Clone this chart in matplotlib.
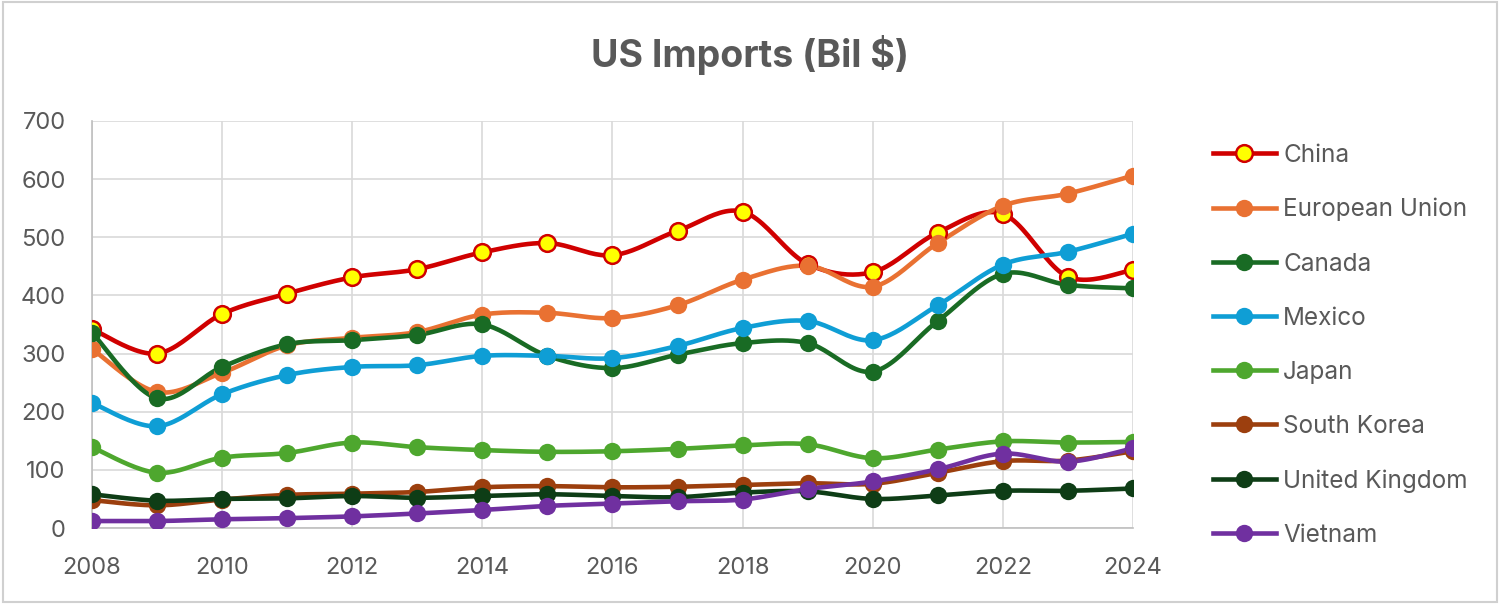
import matplotlib.pyplot as plt
import numpy as np
from matplotlib.lines import Line2D
from matplotlib.patches import Rectangle

years = list(range(2008, 2025))

china = [342, 300, 368, 403, 431, 445, 474, 490, 469, 511, 544, 454, 440, 508, 540, 432, 444]
eu = [308, 234, 267, 314, 327, 337, 367, 370, 361, 383, 427, 451, 415, 490, 554, 575, 606]
canada = [336, 223, 277, 316, 323, 332, 350, 296, 275, 298, 318, 318, 269, 356, 437, 418, 412]
mexico = [215, 175, 230, 263, 277, 280, 296, 296, 292, 313, 344, 356, 323, 383, 453, 475, 506]
japan = [139, 95, 121, 129, 147, 139, 134, 131, 132, 136, 142, 144, 120, 135, 149, 147, 148]
south_korea = [48, 39, 49, 57, 59, 62, 70, 72, 70, 71, 74, 77, 76, 95, 115, 116, 132]
uk = [58, 47, 50, 51, 55, 52, 55, 58, 55, 53, 61, 63, 50, 56, 64, 64, 68]
vietnam = [12, 12, 15, 17, 20, 25, 31, 38, 42, 46, 49, 67, 80, 101, 128, 114, 137]

series_names = ["China", "European Union", "Canada", "Mexico", "Japan",
                "South Korea", "United Kingdom", "Vietnam"]
series_values = [china, eu, canada, mexico, japan, south_korea, uk, vietnam]
colors = ["#D00000", "#E97132", "#196B24", "#0F9ED5", "#4EA72E",
          "#9C3F0E", "#0E3D16", "#7030A0"]

TEXT = "#595959"
FONT = ["Inter", "DejaVu Sans"]


def smooth(x, y, steps=24):
    # Excel-like smoothed line: cubic Bezier through each pair of points
    x = np.asarray(x, float)
    y = np.asarray(y, float)
    px = np.concatenate([[x[0]], x, [x[-1]]])
    py = np.concatenate([[y[0]], y, [y[-1]]])
    t = np.linspace(0, 1, steps)
    xs, ys = [], []
    for i in range(1, len(px) - 2):
        p0 = np.array([px[i], py[i]])
        p3 = np.array([px[i + 1], py[i + 1]])
        p1 = p0 + (np.array([px[i + 1], py[i + 1]]) - np.array([px[i - 1], py[i - 1]])) / 6
        p2 = p3 - (np.array([px[i + 2], py[i + 2]]) - np.array([px[i], py[i]])) / 6
        b = ((1 - t) ** 3)[:, None] * p0 + (3 * (1 - t) ** 2 * t)[:, None] * p1 \
            + (3 * (1 - t) * t ** 2)[:, None] * p2 + (t ** 3)[:, None] * p3
        xs.append(b[:, 0])
        ys.append(b[:, 1])
    return np.concatenate(xs), np.concatenate(ys)


fig = plt.figure(figsize=(15, 6.04), dpi=100)
ax = fig.add_axes([0.0613, 0.1258, 0.694, 0.674])

handles = []
for name, vals, col in zip(series_names, series_values, colors):
    sx, sy = smooth(years, vals)
    ax.plot(sx, sy, color=col, lw=3.3, solid_capstyle="round", zorder=3)
    if name == "China":
        mk = dict(marker="o", ms=12, mfc="#FFFF00", mec=col, mew=1.8)
    else:
        mk = dict(marker="o", ms=12.5, mfc=col, mec=col, mew=0)
    ax.plot(years, vals, ls="none", zorder=4, **mk)
    handles.append(Line2D([0], [0], color=col, lw=3.3, **mk))

ax.set_xlim(2008, 2024)
ax.set_ylim(0, 700)
ax.set_xticks(range(2008, 2025, 2))
ax.set_yticks(range(0, 701, 100))
ax.grid(True, color="#D9D9D9", lw=1.2, zorder=0)
ax.set_axisbelow(True)
for side in ["top", "right"]:
    ax.spines[side].set_visible(False)
for side in ["left", "bottom"]:
    ax.spines[side].set_color("#BFBFBF")
    ax.spines[side].set_linewidth(1.2)
ax.tick_params(length=0, labelsize=17, labelcolor=TEXT)
ax.tick_params(axis="x", pad=21)
ax.tick_params(axis="y", pad=19)
for lab in ax.get_xticklabels() + ax.get_yticklabels():
    lab.set_family(FONT)

fig.text(0.5, 0.909, "US Imports (Bil $)", ha="center", va="center",
         fontsize=27, fontweight="bold", color=TEXT, family=FONT)

leg = fig.legend(handles, series_names, loc="upper left",
                 bbox_to_anchor=(0.794, 0.798), frameon=False,
                 prop={"family": FONT, "size": 17.5}, labelcolor=TEXT,
                 handlelength=2.6, handletextpad=0.3, labelspacing=1.28)

fig.patches.append(Rectangle((0.002, 0.004), 0.996, 0.992, transform=fig.transFigure,
                             fill=False, edgecolor="#D0D0D0", lw=1.5))

fig.savefig("out.png", dpi=100)
